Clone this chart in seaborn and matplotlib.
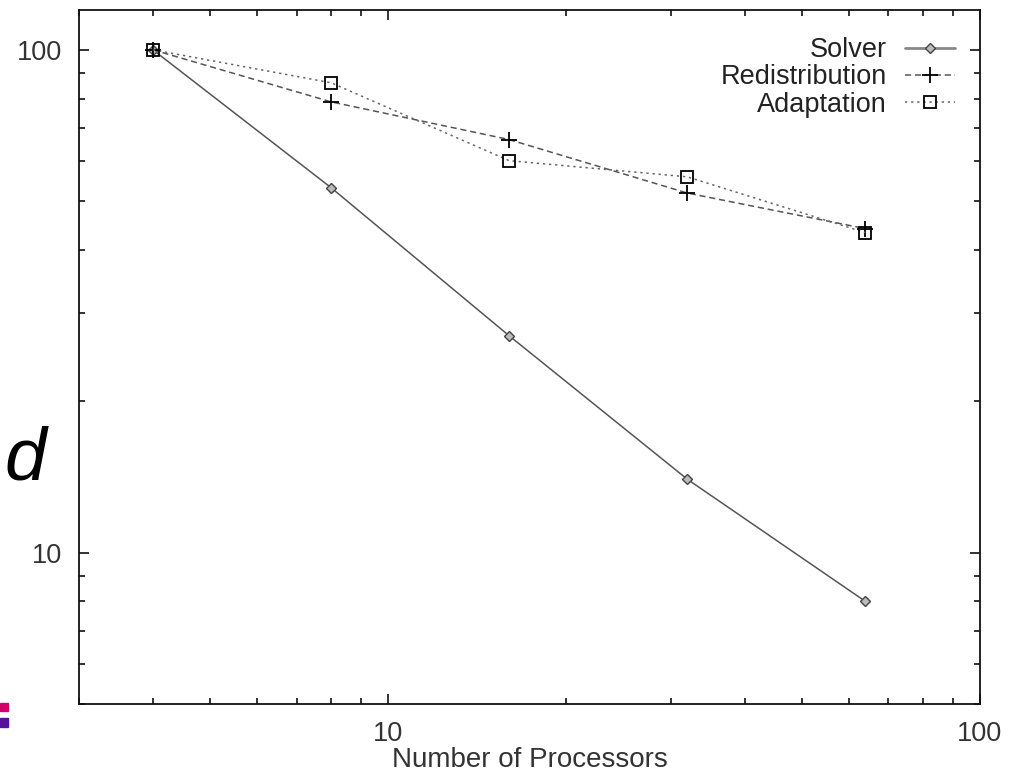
import matplotlib
matplotlib.use("Agg")
import matplotlib.pyplot as plt
import matplotlib.ticker as mticker
from matplotlib.patches import Rectangle
import seaborn as sns
import pandas as pd

processors = [4, 8, 16, 32, 64]
solver = [100, 53.2, 27.0, 14.0, 8.0]
redistribution = [100, 78.8, 66.3, 51.9, 44.1]
adaptation = [100, 86.0, 60.2, 55.9, 43.3]
series_names = ["Solver", "Redistribution", "Adaptation"]
x_ticks = [10, 100]
y_ticks = [10, 100]

sns.set_theme(style="ticks")
plt.rcParams['font.family'] = ['Liberation Sans', 'DejaVu Sans']

df = pd.DataFrame({
    "procs": processors * 3,
    "value": solver + redistribution + adaptation,
    "series": sum([[n] * len(processors) for n in series_names], []),
})

fig = plt.figure(figsize=(10.14, 7.72), dpi=100)
ax = fig.add_axes([79 / 1014, 1 - 704 / 772, (980 - 79) / 1014, (704 - 10) / 772])

styles = {
    "Solver": dict(color="#555555", linestyle="-", marker="D", markersize=5,
                   markerfacecolor="#bbbbbb", markeredgecolor="#444444", markeredgewidth=1.0),
    "Redistribution": dict(color="#555555", linestyle=(0, (4, 2.5)), marker="+", markersize=11,
                           markeredgecolor="#000000", markeredgewidth=1.3),
    "Adaptation": dict(color="#666666", linestyle=(0, (1.5, 2.5)), marker="s", markersize=8,
                       markerfacecolor="none", markeredgecolor="#000000", markeredgewidth=1.3),
}

for name in series_names:
    sub = df[df["series"] == name]
    sns.lineplot(data=sub, x="procs", y="value", ax=ax, label=name,
                 linewidth=1.1, **styles[name])

ax.set_xscale("log")
ax.set_yscale("log")
ax.set_xlim(3, 100)
ax.set_ylim(5, 120)
ax.set_xticks(x_ticks)
ax.set_yticks(y_ticks)
ax.xaxis.set_major_formatter(mticker.FuncFormatter(lambda v, p: f"{v:g}"))
ax.yaxis.set_major_formatter(mticker.FuncFormatter(lambda v, p: f"{v:g}"))
ax.xaxis.set_minor_formatter(mticker.NullFormatter())
ax.yaxis.set_minor_formatter(mticker.NullFormatter())
ax.xaxis.set_minor_locator(mticker.LogLocator(base=10, subs=range(2, 10)))
ax.yaxis.set_minor_locator(mticker.LogLocator(base=10, subs=range(2, 10)))

ax.tick_params(which="both", direction="in", top=True, right=True,
               color="#111111", width=1.2, labelsize=19.5, labelcolor="#333333")
ax.tick_params(which="major", length=7.5)
ax.tick_params(axis="x", which="major", pad=12)
ax.tick_params(axis="y", which="major", pad=12)
ax.tick_params(which="minor", length=4)
for s in ax.spines.values():
    s.set_linewidth(1.3)
    s.set_color("#111111")

ax.set_xlabel("Number of Processors", fontsize=20, color="#333333", labelpad=0)
ax.set_ylabel("")

leg = ax.legend(loc="upper right", frameon=False, markerfirst=False, fontsize=19.5,
                handlelength=1.85, labelspacing=0.05, borderaxespad=0, borderpad=0,
                handletextpad=0.65, bbox_to_anchor=(0.972, 0.961))
for t in leg.get_texts():
    t.set_ha("right")
    t.set_color("#222222")
leg._legend_box.align = "right"
leg.get_lines()[0].set_linewidth(2.0)
leg.get_lines()[0].set_color("#888888")

fig.text(46 / 1014, 1 - 480 / 772, "d", fontsize=54, style="italic",
         ha="right", va="baseline", color="#000000")
fig.patches.append(Rectangle((0, 1 - 711 / 772), 8 / 1014, 8 / 772,
                             transform=fig.transFigure, color="#d4006a", zorder=5))
fig.patches.append(Rectangle((0, 1 - 727 / 772), 8 / 1014, 9 / 772,
                             transform=fig.transFigure, color="#55109c", zorder=5))

fig.savefig("out.png", dpi=100)
